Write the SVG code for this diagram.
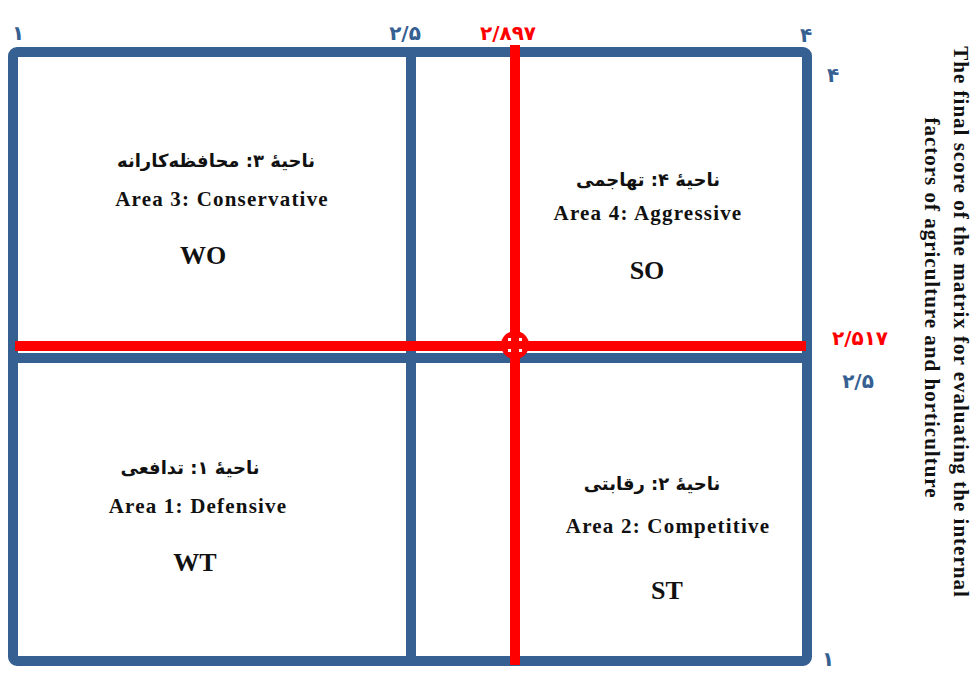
<svg xmlns="http://www.w3.org/2000/svg" width="976" height="673" viewBox="0 0 976 673">
<style>
.blue{stroke:#366092;stroke-width:10;fill:none}
.red{stroke:#FF0000;stroke-width:10;fill:none}
.fa{font-family:"DejaVu Sans",sans-serif;font-weight:bold;font-size:18px;fill:#111;text-anchor:middle}
.en{font-family:"Liberation Serif",serif;font-weight:bold;font-size:21px;letter-spacing:1.2px;fill:#111;text-anchor:middle}
.code{font-family:"Liberation Serif",serif;font-weight:bold;font-size:26px;fill:#111;text-anchor:middle}
.ax{font-family:"DejaVu Sans",sans-serif;font-weight:bold;font-size:20px;text-anchor:middle}
.axb{fill:#366092}
.axr{fill:#FF0000}
.title{font-family:"Liberation Serif",serif;font-weight:bold;font-size:21px;letter-spacing:1px;fill:#111;text-anchor:middle}
</style>
<rect width="976" height="673" fill="#fff"/>
<g id="connectors">
<rect class="blue" x="13" y="52" width="794" height="609" rx="4"/>
<line class="blue" x1="411" y1="52" x2="411" y2="661"/>
<line class="blue" x1="13" y1="358" x2="807" y2="358"/>
<line class="red" x1="15" y1="346" x2="806" y2="346"/>
<line class="red" x1="515" y1="45" x2="515" y2="665"/>
<circle cx="515" cy="345" r="14" fill="#FF0000"/>
<g fill="#fff">
<rect x="508" y="338" width="3" height="3"/>
<rect x="519" y="338" width="3" height="3"/>
<rect x="508" y="349" width="3" height="3"/>
<rect x="519" y="349" width="3" height="3"/>
</g>
</g>
<g id="axis-labels">
<text class="ax axb" x="18" y="40">۱</text>
<text class="ax axb" x="405" y="40">۲/۵</text>
<text class="ax axr" x="508" y="40">۲/۸۹۷</text>
<text class="ax axb" x="806" y="42">۴</text>
<text class="ax axb" x="833" y="82">۴</text>
<text class="ax axr" x="860" y="345">۲/۵۱۷</text>
<text class="ax axb" x="858" y="388">۲/۵</text>
<text class="ax axb" x="828" y="666">۱</text>
</g>
<g id="area3">
<text class="fa" x="216" y="167" direction="rtl">ناحیهٔ ۳: محافظه‌کارانه</text>
<text class="en" x="222" y="206">Area 3: Conservative</text>
<text class="code" x="203" y="264">WO</text>
</g>
<g id="area4">
<text class="fa" x="648" y="186" direction="rtl">ناحیهٔ ۴: تهاجمی</text>
<text class="en" x="648" y="220">Area 4: Aggressive</text>
<text class="code" x="647" y="279">SO</text>
</g>
<g id="area1">
<text class="fa" x="190" y="474" direction="rtl">ناحیهٔ ۱: تدافعی</text>
<text class="en" x="198" y="513">Area 1: Defensive</text>
<text class="code" x="195" y="571">WT</text>
</g>
<g id="area2">
<text class="fa" x="652" y="490" direction="rtl">ناحیهٔ ۲: رقابتی</text>
<text class="en" x="668" y="533">Area 2: Competitive</text>
<text class="code" x="667" y="599">ST</text>
</g>
<g id="axis-title">
<text class="title" transform="translate(954,322) rotate(90)">The final score of the matrix for evaluating the internal</text>
<text class="title" transform="translate(925,308) rotate(90)">factors of agriculture and horticulture</text>
</g>
</svg>
